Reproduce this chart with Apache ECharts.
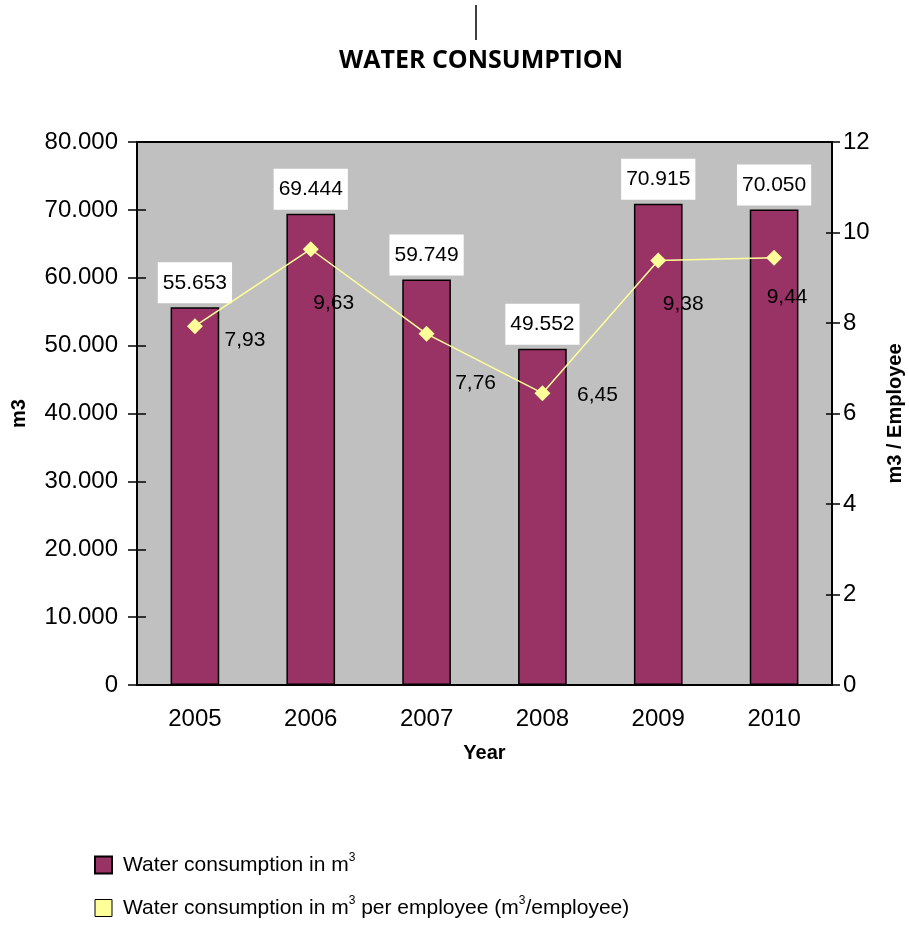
<!DOCTYPE html>
<html>
<head>
<meta charset="utf-8">
<script src="https://cdn.jsdelivr.net/npm/echarts@6/dist/echarts.min.js"></script>
<style>
  html, body { margin: 0; padding: 0; background: #fff; }
  #chart { width: 909px; height: 925px; }
</style>
</head>
<body>
<div id="chart"></div>
<script>
// data
const years = ['2005', '2006', '2007', '2008', '2009', '2010'];
const waterM3 = [55653, 69444, 59749, 49552, 70915, 70050];
const waterPerEmployee = [7.93, 9.63, 7.76, 6.45, 9.38, 9.44];

// where the per-employee labels sit next to each point (hand placed in the original)
const lineLabelShift = [[50, 14], [23, 54], [49, 49], [55, 2], [25, 44], [13, 39]];

const chart = echarts.init(document.getElementById('chart'));
const FONT = '"Liberation Sans", Arial, sans-serif';

function thousands(v) {
    return String(Math.round(v)).replace(/\B(?=(\d{3})+(?!\d))/g, '.');
}
function comma(v) {
    return v.toFixed(2).replace('.', ',');
}

const tickStyle = { color: '#000', width: 1.5 };

const option = {
    animation: false,
    backgroundColor: '#fff',
    textStyle: { fontFamily: FONT },
    title: {
        text: 'WATER CONSUMPTION',
        left: 476,
        textAlign: 'center',
        top: 43,
        textStyle: { fontFamily: '"Open Sans", sans-serif', fontWeight: 'bold', fontSize: 25, color: '#000' }
    },
    grid: {
        left: 137, right: 77, top: 142, bottom: 240,
        outerBoundsMode: 'none',
        show: true, backgroundColor: '#C0C0C0', borderColor: '#000', borderWidth: 2
    },
    legend: {
        orient: 'vertical',
        left: 94,
        top: 852,
        padding: 0,
        height: 80,
        itemGap: 17,
        itemWidth: 17,
        itemHeight: 17,
        data: [
            { name: 'bars', icon: 'rect' },
            { name: 'line', icon: 'rect', itemStyle: { color: '#FFFF99', borderColor: '#000', borderWidth: 1 } }
        ],
        formatter: function (name) {
            if (name === 'bars') return 'Water consumption in m{sup|3}';
            return 'Water consumption in m{sup|3} per employee (m{sup|3}/employee)';
        },
        textStyle: {
            fontFamily: FONT, fontSize: 21, color: '#000', lineHeight: 26, padding: [0, 0, 0, 6],
            rich: { sup: { fontFamily: FONT, fontSize: 12, verticalAlign: 'top', lineHeight: 26, padding: [0, 0, 12, 0], color: '#000' } }
        }
    },
    xAxis: [
        {
            type: 'category',
            data: years,
            name: 'Year',
            nameLocation: 'middle',
            nameGap: 58,
            nameTextStyle: { fontFamily: FONT, fontWeight: 'bold', fontSize: 20, color: '#000' },
            axisLine: { lineStyle: { color: '#000', width: 2 } },
            axisTick: { length: 8, lineStyle: tickStyle },
            axisLabel: { fontFamily: FONT, fontSize: 24, color: '#000', margin: 22 }
        },
        {
            // inner half of the crossing ticks
            type: 'category',
            data: years,
            position: 'bottom',
            axisLine: { show: false },
            axisTick: { inside: true, length: 8, lineStyle: tickStyle },
            axisLabel: { show: false }
        }
    ],
    yAxis: [
        {
            type: 'value',
            min: 0, max: 80000, interval: 10000,
            name: 'm3',
            nameLocation: 'middle',
            nameGap: 108,
            nameTextStyle: { fontFamily: FONT, fontWeight: 'bold', fontSize: 20, color: '#000' },
            axisLine: { show: true, lineStyle: { color: '#000', width: 2 } },
            axisTick: { show: true, length: 9, lineStyle: tickStyle },
            axisLabel: { fontFamily: FONT, fontSize: 24, color: '#000', margin: 19, formatter: thousands },
            splitLine: { show: false }
        },
        {
            type: 'value',
            min: 0, max: 12, interval: 2,
            name: 'm3 / Employee',
            nameLocation: 'middle',
            nameGap: 53,
            nameRotate: 90,
            nameTextStyle: { fontFamily: FONT, fontWeight: 'bold', fontSize: 20, color: '#000' },
            axisLine: { show: true, lineStyle: { color: '#000', width: 2 } },
            axisTick: { show: true, length: 8, lineStyle: tickStyle },
            axisLabel: { fontFamily: FONT, fontSize: 24, color: '#000', margin: 11 },
            splitLine: { show: false }
        },
        {
            type: 'value',
            min: 0, max: 80000, interval: 10000,
            position: 'left',
            axisLine: { show: false },
            axisTick: { show: true, inside: true, length: 9, lineStyle: tickStyle },
            axisLabel: { show: false },
            splitLine: { show: false }
        },
        {
            type: 'value',
            min: 0, max: 12, interval: 2,
            position: 'right',
            axisLine: { show: false },
            axisTick: { show: true, inside: true, length: 6, lineStyle: tickStyle },
            axisLabel: { show: false },
            splitLine: { show: false }
        }
    ],
    series: [
        {
            name: 'bars',
            type: 'bar',
            data: waterM3,
            barWidth: '42%',
            itemStyle: { color: '#993366', borderColor: '#000', borderWidth: 1.5 },
            label: {
                show: true,
                position: 'top',
                distance: 4,
                formatter: p => thousands(p.value),
                backgroundColor: '#fff',
                padding: [10, 5, 10, 5],
                fontFamily: FONT, fontSize: 21, color: '#000'
            }
        },
        {
            name: 'line',
            type: 'line',
            yAxisIndex: 1,
            data: waterPerEmployee.map((v, i) => ({
                value: v,
                label: { offset: lineLabelShift[i] }
            })),
            symbol: 'diamond',
            symbolSize: 16,
            lineStyle: { color: '#FFFF99', width: 1.5 },
            itemStyle: { color: '#FFFF99' },
            label: {
                show: true,
                position: 'inside',
                formatter: p => comma(p.value),
                fontFamily: FONT, fontSize: 21, color: '#000'
            },
            z: 3
        }
    ],
    graphic: [
        { type: 'line', shape: { x1: 476, y1: 5, x2: 476, y2: 40 }, style: { stroke: '#000', lineWidth: 1.5 } }
    ]
};

chart.setOption(option);
</script>
</body>
</html>
